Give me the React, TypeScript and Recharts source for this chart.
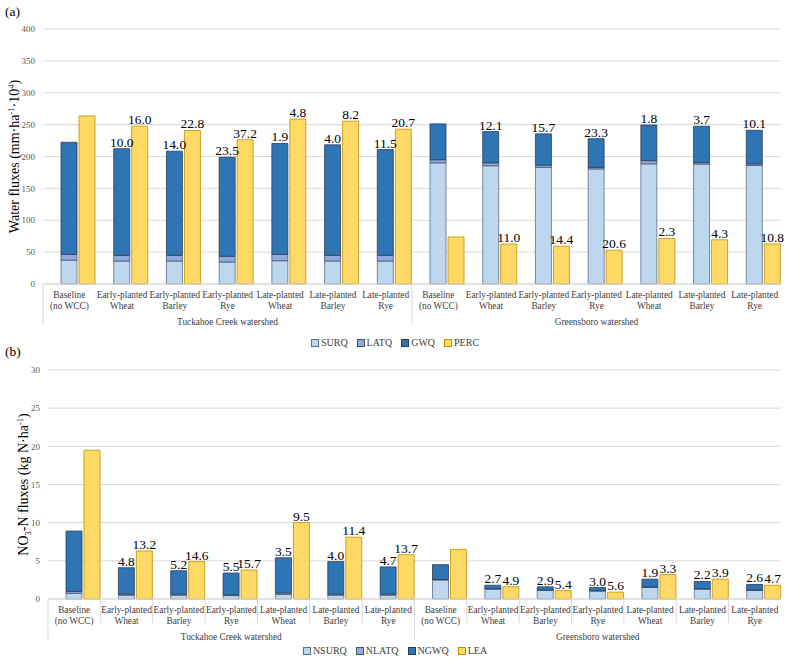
import React from 'react';
import { BarChart, Bar, XAxis, YAxis, CartesianGrid, LabelList } from 'recharts';

const FONT = '"Liberation Serif", "Times New Roman", serif';

const categories = [
  'Baseline (no WCC)', 'Early-planted Wheat', 'Early-planted Barley', 'Early-planted Rye',
  'Late-planted Wheat', 'Late-planted Barley', 'Late-planted Rye',
  'Baseline (no WCC)', 'Early-planted Wheat', 'Early-planted Barley', 'Early-planted Rye',
  'Late-planted Wheat', 'Late-planted Barley', 'Late-planted Rye',
];
const watershedOfCategory = [
  'Tuckahoe Creek watershed', 'Tuckahoe Creek watershed', 'Tuckahoe Creek watershed', 'Tuckahoe Creek watershed',
  'Tuckahoe Creek watershed', 'Tuckahoe Creek watershed', 'Tuckahoe Creek watershed',
  'Greensboro watershed', 'Greensboro watershed', 'Greensboro watershed', 'Greensboro watershed',
  'Greensboro watershed', 'Greensboro watershed', 'Greensboro watershed',
];
const emptySlot = [0, 0, 0, 0, 0, 0, 0, 0, 0, 0, 0, 0, 0, 0];

// (a) Water fluxes
const surq = [37.5, 36, 36, 34.5, 36.5, 36, 36, 190, 185.5, 183, 180.5, 188.5, 188, 186];
const latq = [9, 9, 9, 9, 10, 9, 9, 5, 4.5, 3.5, 2.5, 5, 2.5, 2.5];
const gwq = [175.8, 167.3, 163.3, 155.3, 173.9, 173.3, 165.8, 56.2, 49.1, 49, 44.9, 55.9, 57, 52.6];
const perc = [263.6, 247.6, 240.8, 226.4, 258.8, 255.4, 242.9, 73.7, 62.7, 59.3, 53.1, 71.4, 69.4, 62.9];
const waterStackLabels = ['', '10.0', '14.0', '23.5', '1.9', '4.0', '11.5', '', '12.1', '15.7', '23.3', '1.8', '3.7', '10.1'];
const percLabels = ['', '16.0', '22.8', '37.2', '4.8', '8.2', '20.7', '', '11.0', '14.4', '20.6', '2.3', '4.3', '10.8'];
const waterTicks = [0, 50, 100, 150, 200, 250, 300, 350, 400];

// (b) NO3-N fluxes
const nsurq = [0.75, 0.5, 0.5, 0.45, 0.6, 0.5, 0.5, 2.5, 1.3, 1.13, 1.05, 1.52, 1.3, 1.13];
const nlatq = [0.25, 0.15, 0.15, 0.1, 0.2, 0.15, 0.15, 0.05, 0.05, 0.05, 0.05, 0.05, 0.05, 0.05];
const ngwq = [7.9, 3.45, 3.05, 2.85, 4.6, 4.25, 3.55, 1.95, 0.45, 0.42, 0.4, 1.03, 0.95, 0.72];
const lea = [19.5, 6.3, 4.9, 3.8, 10.0, 8.1, 5.8, 6.5, 1.6, 1.1, 0.9, 3.2, 2.6, 1.8];
const nStackLabels = ['', '4.8', '5.2', '5.5', '3.5', '4.0', '4.7', '', '2.7', '2.9', '3.0', '1.9', '2.2', '2.6'];
const leaLabels = ['', '13.2', '14.6', '15.7', '9.5', '11.4', '13.7', '', '4.9', '5.4', '5.6', '3.3', '3.9', '4.7'];
const nTicks = [0, 5, 10, 15, 20, 25, 30];

const waterLegend = ['SURQ', 'LATQ', 'GWQ', 'PERC'];
const nLegend = ['NSURQ', 'NLATQ', 'NGWQ', 'LEA'];
const fills = ['#BDD7EE', '#8FAADC', '#2E75B6', '#FFD966'];
const strokes = ['#5F6E86', '#44546A', '#2F3B52', '#BF9000'];

const waterData = categories.map((c, i) => ({
  cat: c, grp: watershedOfCategory[i], blank: emptySlot[i],
  a: surq[i], b: latq[i], c: gwq[i], d: perc[i],
  stackLabel: waterStackLabels[i], dLabel: percLabels[i],
}));
const nData = categories.map((c, i) => ({
  cat: c, grp: watershedOfCategory[i], blank: emptySlot[i],
  a: nsurq[i], b: nlatq[i], c: ngwq[i], d: lea[i],
  stackLabel: nStackLabels[i], dLabel: leaLabels[i],
}));

const W = 790;
const RIGHT = 9;

function makeCategoryTick(band: number, allSeparators: boolean) {
  return (props: any) => {
    const { x, y, payload, index } = props;
    const parts = String(payload.value).split(' ');
    const l1 = parts[0];
    const l2 = parts.slice(1).join(' ');
    const left = x - band / 2;
    const isGroupEdge = index === 0 || index === 7;
    return (
      <g>
        {isGroupEdge && <line x1={left} x2={left} y1={y} y2={y + 41} stroke="#D9D9D9" strokeWidth={1} />}
        {!isGroupEdge && allSeparators && <line x1={left} x2={left} y1={y} y2={y + 24} stroke="#D9D9D9" strokeWidth={1} />}
        <text x={x} y={y} textAnchor="middle" fontFamily={FONT} fontSize={9.3} fill="#404040">
          <tspan x={x} dy={14}>{l1}</tspan>
          <tspan x={x} dy={10.5}>{l2}</tspan>
        </text>
      </g>
    );
  };
}

const GroupTick = (props: any) => {
  const { x, y, payload, index } = props;
  if (index !== 3 && index !== 10) return <g />;
  return (
    <text x={x} y={y + 13} textAnchor="middle" fontFamily={FONT} fontSize={9.3} fill="#404040">
      {payload.value}
    </text>
  );
};

function WaterTitle(props: any) {
  const vb = props.viewBox || {};
  const cy = vb.y + vb.height / 2;
  const px = 18.5;
  return (
    <text x={px} y={cy} transform={`rotate(-90 ${px} ${cy})`} textAnchor="middle" fontFamily={FONT} fontSize={14} fill="#000">
      Water fluxes (mm·ha<tspan dy={-5} fontSize={8.5}>-1</tspan><tspan dy={5}>·10</tspan><tspan dy={-5} fontSize={8.5}>4</tspan><tspan dy={5}>)</tspan>
    </text>
  );
}

function NTitle(props: any) {
  const vb = props.viewBox || {};
  const cy = vb.y + vb.height / 2;
  const px = 27.5;
  return (
    <text x={px} y={cy} transform={`rotate(-90 ${px} ${cy})`} textAnchor="middle" fontFamily={FONT} fontSize={14} fill="#000">
      NO<tspan dy={3} fontSize={8.5}>3</tspan><tspan dy={-3}>-N fluxes (kg N·ha</tspan><tspan dy={-5} fontSize={8.5}>-1</tspan><tspan dy={5}>)</tspan>
    </text>
  );
}

function LegendRow({ names, top }: { names: string[]; top: number }) {
  return (
    <div style={{ position: 'absolute', left: 0, top, width: W, display: 'flex', justifyContent: 'center', fontFamily: FONT, fontSize: 10, color: '#404040', lineHeight: '12px' }}>
      {names.map((n, i) => (
        <div key={n} style={{ display: 'flex', alignItems: 'center', marginLeft: i === 0 ? 0 : 9 }}>
          <span style={{ display: 'inline-block', width: 6, height: 6, background: fills[i], border: `1px solid ${strokes[i]}`, marginRight: 2 }} />
          <span>{n}</span>
        </div>
      ))}
    </div>
  );
}

const labelStyle = { fontFamily: FONT, fontSize: 13.5, fill: '#000' };

function Panel({ data, height, top, leftW, marginTop, marginBottom, domainMax, ticks, allSeparators, Title }: any) {
  const band = (W - leftW - RIGHT) / data.length;
  return (
    <div style={{ position: 'absolute', left: 0, top, width: W, height }}>
      <BarChart width={W} height={height} data={data} margin={{ top: marginTop, right: RIGHT, left: 0, bottom: marginBottom }} barCategoryGap={0} barGap={2}>
        <CartesianGrid horizontal={true} vertical={false} stroke="#D9D9D9" />
        <XAxis dataKey="cat" interval={0} height={28} tickSize={0} tickMargin={0} tickLine={false} axisLine={{ stroke: '#D9D9D9' }} tick={makeCategoryTick(band, allSeparators)} />
        <XAxis xAxisId="grp" dataKey="grp" interval={0} height={22} tickSize={0} tickMargin={0} tickLine={false} axisLine={false} tick={GroupTick} />
        <YAxis width={leftW} domain={[0, domainMax]} ticks={ticks} interval={0} axisLine={false} tickLine={false} tickSize={0} tickMargin={8}
          tick={{ fontFamily: FONT, fontSize: 9, fill: '#595959' }} label={{ content: Title }} />
        <Bar dataKey="blank" stackId="z" fill="none" isAnimationActive={false} legendType="none" />
        <Bar dataKey="a" stackId="s" fill={fills[0]} stroke={strokes[0]} strokeWidth={0.8} isAnimationActive={false} />
        <Bar dataKey="b" stackId="s" fill={fills[1]} stroke={strokes[1]} strokeWidth={0.8} isAnimationActive={false} />
        <Bar dataKey="c" stackId="s" fill={fills[2]} stroke={strokes[2]} strokeWidth={0.8} isAnimationActive={false}>
          <LabelList dataKey="stackLabel" position="top" offset={2} {...labelStyle} />
        </Bar>
        <Bar dataKey="d" stackId="p" fill={fills[3]} stroke={strokes[3]} strokeWidth={0.8} isAnimationActive={false}>
          <LabelList dataKey="dLabel" position="top" offset={2} {...labelStyle} />
        </Bar>
      </BarChart>
    </div>
  );
}

export default function App() {
  return (
    <div style={{ position: 'absolute', left: 0, top: 0, width: W, height: 662, background: '#fff', overflow: 'hidden' }}>
      <Panel data={waterData} height={350} top={0} leftW={43} marginTop={29} marginBottom={16} domainMax={400} ticks={waterTicks} allSeparators={false} Title={WaterTitle} />
      <Panel data={nData} height={322} top={340} leftW={48} marginTop={30} marginBottom={13} domainMax={30} ticks={nTicks} allSeparators={true} Title={NTitle} />
      <LegendRow names={waterLegend} top={337} />
      <LegendRow names={nLegend} top={645} />
      <div style={{ position: 'absolute', left: 5, top: 5, fontFamily: FONT, fontSize: 13.5, lineHeight: '14px', color: '#000' }}>(a)</div>
      <div style={{ position: 'absolute', left: 5, top: 345, fontFamily: FONT, fontSize: 13.5, lineHeight: '14px', color: '#000' }}>(b)</div>
    </div>
  );
}
